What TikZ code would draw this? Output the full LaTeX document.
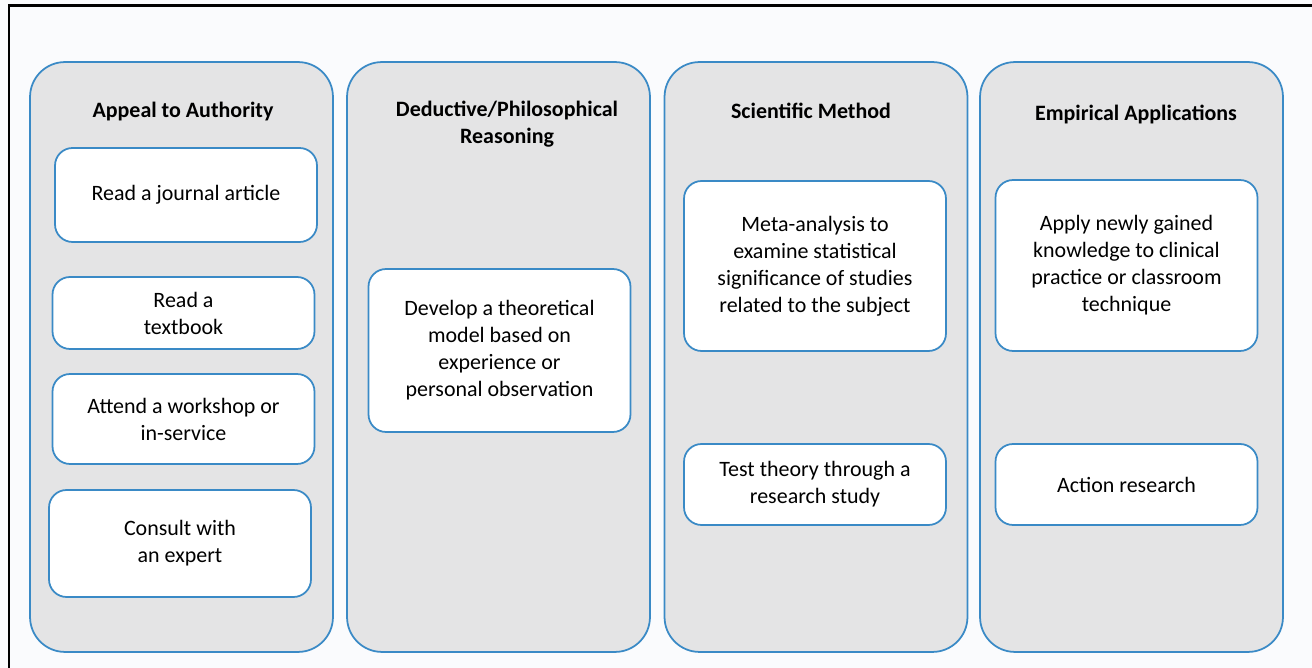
\documentclass[tikz,border=0pt]{standalone}
\usepackage{fontspec}
\setmainfont{Carlito}
\definecolor{edgeblue}{RGB}{58,138,198}
\definecolor{colgray}{RGB}{228,228,229}
\definecolor{paper}{RGB}{250,251,253}

\begin{document}
\begin{tikzpicture}[
	x=0.02cm, y=-0.02cm,
	column/.style={draw=edgeblue, line width=1pt, fill=colgray,
		rounded corners=0.7cm, minimum width=6.06cm, minimum height=11.8cm},
	head/.style={font=\bfseries\fontsize{12.5}{15.4}\selectfont, align=center},
	item/.style={draw=edgeblue, line width=1pt, fill=white, rounded corners=0.35cm,
		minimum width=5.24cm, align=center,
		font=\fontsize{12.5}{15.4}\selectfont}]
\fill[paper] (0,0) rectangle (1312,668);
\useasboundingbox (0,0) rectangle (1312,668);
\draw[line width=1.7pt] (9,668) -- (9,6) -- (1312,6);

% the four columns
\node[column] (authority) at (181.5,357) {};
\node[column] (deductive) at (498.5,357) {};
\node[column] (scientific) at (816,357) {};
\node[column] (empirical) at (1131.5,357) {};

\node[head] (h1) at (183,112) {Appeal to Authority};
\node[head] (h2) at (507,124) {Deductive/Philosophical\\Reasoning};
\node[head] (h3) at (811,111) {Scientific Method};
\node[head] (h4) at (1136,115) {Empirical Applications};

% appeal to authority
\node[item, minimum height=1.88cm] (journal) at (186,195) {Read a journal article};
\node[item, minimum height=1.44cm] (textbook) at (183.5,313) {Read a\\textbook};
\node[item, minimum height=1.8cm] (workshop) at (183.5,419) {Attend a workshop or\\in-service};
\node[item, minimum height=2.14cm] (expert) at (180,543.5) {Consult with\\an expert};

% deductive reasoning
\node[item, minimum height=3.26cm] (model) at (499.5,350.5)
	{Develop a theoretical\\model based on\\experience or\\personal observation};

% scientific method
\node[item, minimum height=3.4cm] (meta) at (815,266)
	{Meta-analysis to\\examine statistical\\significance of studies\\related to the subject};
\node[item, minimum height=1.62cm] (test) at (815,484.5)
	{Test theory through a\\research study};

% empirical applications
\node[item, minimum height=3.42cm] (apply) at (1126.5,265.5)
	{Apply newly gained\\knowledge to clinical\\practice or classroom\\technique};
\node[item, minimum height=1.62cm] (action) at (1126.5,484.5) {Action research};
\end{tikzpicture}
\end{document}
